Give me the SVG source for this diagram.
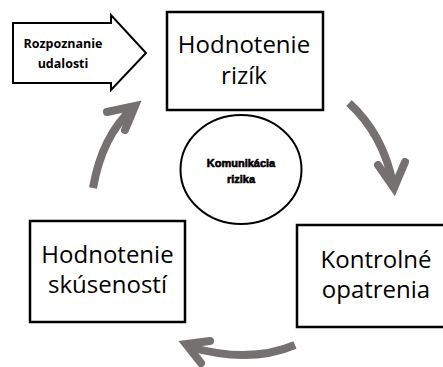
<svg xmlns="http://www.w3.org/2000/svg" width="443" height="367" viewBox="0 0 443 367">
<style>
.box{fill:#fff;stroke:#000;stroke-width:2.5}
.lbl{font-family:"Open Sans","Noto Sans",sans-serif;font-size:24px;fill:#000;text-anchor:middle}
.small{font-family:"Open Sans","Noto Sans",sans-serif;font-size:12.5px;font-weight:bold;fill:#000;text-anchor:middle}
.tiny{font-family:"Liberation Sans",Arial,sans-serif;font-size:11px;font-weight:bold;fill:#000;stroke:#000;stroke-width:0.6;text-anchor:middle}
.arc{fill:none;stroke:#767171;stroke-width:8}
.head{fill:none;stroke:#767171;stroke-width:8;stroke-linejoin:miter;stroke-linecap:round}
</style>
<rect width="443" height="367" fill="#fff"/>
<g id="connectors">
  <path class="arc" d="M93,188 Q102,136 133,108"/>
  <path class="head" d="M107,112 L135,106 L125,130"/>
  <path class="arc" d="M349,103 Q383,134 393,184"/>
  <path class="head" d="M378,165 L394,188 L405,162"/>
  <path class="arc" d="M295,345 Q250,364 190,347"/>
  <path class="head" d="M210,341 L186,344 L201,363"/>
</g>
<g id="rozpoznanie">
  <polygon points="13,23 111,23 111,15 146,53 111,90 111,83 13,83" fill="#fff" stroke="#000" stroke-width="2"/>
  <text class="small" x="63" y="47.5">Rozpoznanie</text>
  <text class="small" x="63" y="67.5">udalosti</text>
</g>
<g id="hodnotenie-rizik">
  <rect class="box" x="167" y="12" width="156" height="98"/>
  <text class="lbl" x="244" y="53">Hodnotenie</text>
  <text class="lbl" x="244" y="84">rizík</text>
</g>
<g id="komunikacia">
  <ellipse cx="241" cy="169.5" rx="60.5" ry="54.5" fill="#fff" stroke="#000" stroke-width="2"/>
  <text class="tiny" x="241" y="166.5">Komunikácia</text>
  <text class="tiny" x="241" y="182.5">rizika</text>
</g>
<g id="kontrolne-opatrenia">
  <rect class="box" x="297" y="225" width="152" height="102"/>
  <text class="lbl" x="376" y="268">Kontrolné</text>
  <text class="lbl" x="376" y="298">opatrenia</text>
</g>
<g id="hodnotenie-skusenosti">
  <rect class="box" x="30" y="221" width="155" height="101"/>
  <text class="lbl" x="107.5" y="263">Hodnotenie</text>
  <text class="lbl" x="107.5" y="293">skúseností</text>
</g>
</svg>
